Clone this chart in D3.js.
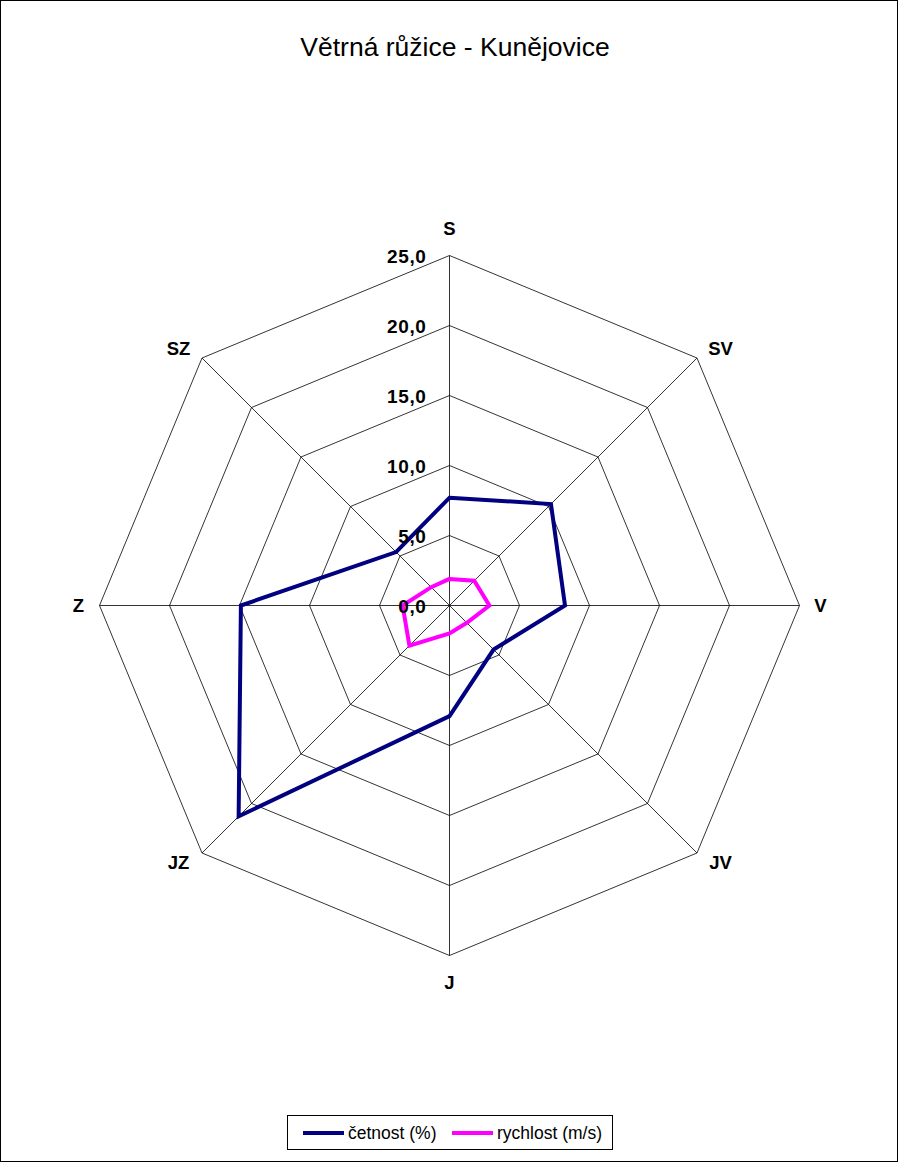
<!DOCTYPE html>
<html>
<head>
<meta charset="utf-8">
<script src="https://cdn.jsdelivr.net/npm/d3@7"></script>
<style>
  html, body { margin: 0; padding: 0; background: #fff; }
  svg { display: block; }
  text { font-family: Arial, "Liberation Sans", sans-serif; }
</style>
</head>
<body>
<script>
// Wind directions (clockwise from north)
const directions = ["S", "SV", "V", "JV", "J", "JZ", "Z", "SZ"];
// Frequency of wind direction (%)
const frequency = [7.7, 10.25, 8.25, 4.45, 7.9, 21.3, 14.9, 5.4];
// Mean wind speed (m/s)
const speed = [1.9, 2.5, 2.85, 1.75, 2.0, 4.05, 3.35, 1.85];
// Radial axis ticks
const ticks = [0, 5, 10, 15, 20, 25];
const tickLabels = ["0,0", "5,0", "10,0", "15,0", "20,0", "25,0"];
const seriesNames = ["četnost (%)", "rychlost (m/s)"];
const seriesColors = ["#000080", "#FF00FF"];

const W = 898, H = 1162;
const cx = 449.5, cy = 605.5, R = 350;

const svg = d3.select("body").append("svg")
  .attr("width", W).attr("height", H);

// chart border
svg.append("rect")
  .attr("x", 0.5).attr("y", 0.5)
  .attr("width", W - 1).attr("height", H - 1)
  .attr("fill", "#fff").attr("stroke", "#000").attr("stroke-width", 1);

// title
svg.append("text")
  .attr("x", 455).attr("y", 56)
  .attr("text-anchor", "middle")
  .attr("font-size", 26.5)
  .text("Větrná růžice - Kunějovice");

const r = d3.scaleLinear().domain([0, 25]).range([0, R]);
const angle = d3.scalePoint().domain(directions).range([0, 2 * Math.PI * 7 / 8]);

const g = svg.append("g").attr("transform", `translate(${cx},${cy})`);

const pt = (dir, v) => {
  const a = angle(dir);
  return [r(v) * Math.sin(a), -r(v) * Math.cos(a)];
};

// grid rings
const ring = d3.lineRadial()
  .angle(d => angle(d))
  .curve(d3.curveLinearClosed);

ticks.filter(t => t > 0).forEach(t => {
  g.append("path")
    .attr("d", ring.radius(() => r(t))(directions))
    .attr("fill", "none")
    .attr("stroke", "#000")
    .attr("stroke-width", 0.8);
});

// spokes
directions.forEach(d => {
  const [x, y] = pt(d, 25);
  g.append("line")
    .attr("x1", 0).attr("y1", 0).attr("x2", x).attr("y2", y)
    .attr("stroke", "#000").attr("stroke-width", 0.8);
});

// data series
const seriesLine = d3.lineRadial()
  .angle((d, i) => angle(directions[i]))
  .radius(d => r(d))
  .curve(d3.curveLinearClosed);

[frequency, speed].forEach((vals, i) => {
  g.append("path")
    .attr("d", seriesLine(vals))
    .attr("fill", "none")
    .attr("stroke", seriesColors[i])
    .attr("stroke-width", 4)
    .attr("stroke-linejoin", "miter");
});

// tick labels
ticks.forEach((t, i) => {
  g.append("text")
    .attr("x", -23).attr("y", -r(t) + 7.5)
    .attr("text-anchor", "end")
    .attr("font-size", 19)
    .attr("font-weight", "bold")
    .attr("letter-spacing", 0.6)
    .text(tickLabels[i]);
});

// direction labels: axis ends on the cardinal points, pulled in on the diagonals
directions.forEach(d => {
  const a = angle(d);
  const s = Math.sin(a), c = Math.cos(a);
  const diagonal = Math.abs(s) > 0.1 && Math.abs(c) > 0.1;
  const x = diagonal ? 271 * Math.sign(s) : 371 * s;
  const y = diagonal ? -257 * Math.sign(c) : -377 * c;
  g.append("text")
    .attr("x", x).attr("y", y)
    .attr("dy", "0.36em")
    .attr("text-anchor", "middle")
    .attr("font-size", 18.5)
    .attr("font-weight", "bold")
    .text(d);
});

// legend
const lg = svg.append("g");
lg.append("rect")
  .attr("x", 287.5).attr("y", 1115.5)
  .attr("width", 325).attr("height", 34)
  .attr("fill", "#fff").attr("stroke", "#000").attr("stroke-width", 1);
const legendX = [303, 452];
seriesNames.forEach((name, i) => {
  lg.append("line")
    .attr("x1", legendX[i]).attr("x2", legendX[i] + 41)
    .attr("y1", 1133).attr("y2", 1133)
    .attr("stroke", seriesColors[i]).attr("stroke-width", 4);
  lg.append("text")
    .attr("x", legendX[i] + 45).attr("y", 1139)
    .attr("font-size", 17.5)
    .text(name);
});
</script>
</body>
</html>
